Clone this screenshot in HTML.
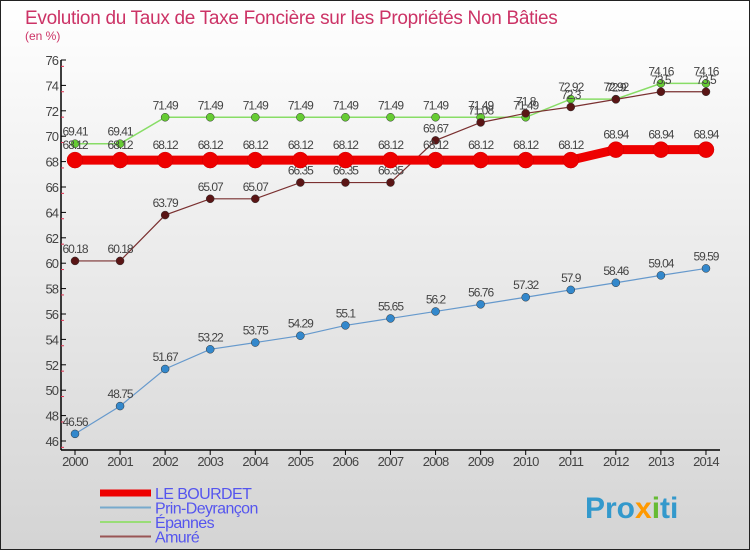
<!DOCTYPE html>
<html><head><meta charset="utf-8"><style>
body{margin:0;width:750px;height:550px;overflow:hidden;font-family:"Liberation Sans",sans-serif}
svg text{font-family:"Liberation Sans",sans-serif}
</style></head><body>
<svg id="c" width="750" height="550" xmlns="http://www.w3.org/2000/svg">
<defs><linearGradient id="bg" x1="0" y1="0" x2="0" y2="1"><stop offset="0" stop-color="#ffffff"/><stop offset="1" stop-color="#d4d4d4"/></linearGradient></defs>
<rect x="0.5" y="0.5" width="749" height="549" fill="url(#bg)" stroke="#222"/>
<text x="25" y="24" font-size="19" fill="#cc3366" letter-spacing="-0.3">Evolution du Taux de Taxe Foncière sur les Propriétés Non Bâties</text>
<text x="25" y="40" font-size="12" fill="#cc3366">(en %)</text>
<g id="axes"></g><g id="series"></g><g id="legend"></g>
<text x="585" y="518" font-size="30" font-weight="bold" fill="#3399cc">Pro<tspan fill="#ff9900">x</tspan><tspan fill="#66bb33">i</tspan>ti</text>
</svg>
<script>
const years=[2000,2001,2002,2003,2004,2005,2006,2007,2008,2009,2010,2011,2012,2013,2014];
const yTicks=[46,48,50,52,54,56,58,60,62,64,66,68,70,72,74,76];
const bourdet=[68.12,68.12,68.12,68.12,68.12,68.12,68.12,68.12,68.12,68.12,68.12,68.12,68.94,68.94,68.94];
const prin=[46.56,48.75,51.67,53.22,53.75,54.29,55.1,55.65,56.2,56.76,57.32,57.9,58.46,59.04,59.59];
const epannes=[69.41,69.41,71.49,71.49,71.49,71.49,71.49,71.49,71.49,71.49,71.49,72.92,72.92,74.16,74.16];
const amure=[60.18,60.18,63.79,65.07,65.07,66.35,66.35,66.35,69.67,71.08,71.8,72.3,72.9,73.5,73.5];
const names=["LE BOURDET","Prin-Deyrançon","Épannes","Amuré"];
const NS="http://www.w3.org/2000/svg";
const X=i=>75+i*45.07, Y=v=>60+(76-v)*12.7;
function mk(t,a,p){const e=document.createElementNS(NS,t);for(const k in a)e.setAttribute(k,a[k]);p.appendChild(e);return e;}
const ax=document.getElementById('axes');
let l=mk('line',{x1:61,y1:60,x2:61,y2:450,stroke:'#000','stroke-width':1.5},ax);


l=mk('line',{x1:61,y1:450,x2:720,y2:450,stroke:'#000','stroke-width':1.5},ax);


yTicks.forEach(v=>{const y=Y(v);mk('line',{x1:61,y1:y,x2:66,y2:y,stroke:'#000'},ax);
mk('line',{x1:61,y1:y+6.35,x2:64,y2:y+6.35,stroke:'#e03050'},ax);
const t=mk('text',{x:58,y:y+5,'font-size':13,'text-anchor':'end',fill:'#444','letter-spacing':'-1'},ax);t.textContent=v;

});
years.forEach((yr,i)=>{mk('line',{x1:X(i),y1:450,x2:X(i),y2:455,stroke:'#000'},ax);
const t=mk('text',{x:X(i),y:466,'font-size':13,'text-anchor':'middle',fill:'#444','letter-spacing':'-0.8'},ax);t.textContent=yr;

});
const sg=document.getElementById('series');
const defs=[[epannes,'#88dd66','#66cc33',1.5,4,'epannes'],[amure,'#7a3030','#5a1515',1.2,4,'amure'],[prin,'#6699cc','#3388cc',1.2,4,'prin-deyrancon'],[bourdet,'#ee0000','#ee0000',9,8,'le-bourdet']];
defs.forEach(([d,lc,pc,w,r,n])=>{const g=mk('g',{},sg);


const pl=mk('polyline',{points:d.map((v,i)=>X(i)+','+Y(v)).join(' '),fill:'none',stroke:lc,'stroke-width':w},g);
d.forEach((v,i)=>{const c=mk('circle',{cx:X(i),cy:Y(v),r:r,fill:pc,stroke:n=='le-bourdet'?'#cc0000':'#333','stroke-width':0.5},g);


const t=mk('text',{x:X(i),y:Y(v)-(n=='le-bourdet'?11:8),'font-size':12,'text-anchor':'middle',fill:'#444','letter-spacing':'-1'},g);t.textContent=v;

});});
const lg=document.getElementById('legend');
const lcol=['#ee0000','#77aacc','#99dd77','#995555'],lw=[7,2,2,2];
names.forEach((nm,i)=>{const y=493+i*14.5;
const r=mk('line',{x1:100,y1:y,x2:151,y2:y,stroke:lcol[i],'stroke-width':lw[i]},lg);


const t=mk('text',{x:155,y:y+6,'font-size':16,fill:'#5555ee','letter-spacing':'-0.6'},lg);t.textContent=nm;

});
</script>
</body></html>
